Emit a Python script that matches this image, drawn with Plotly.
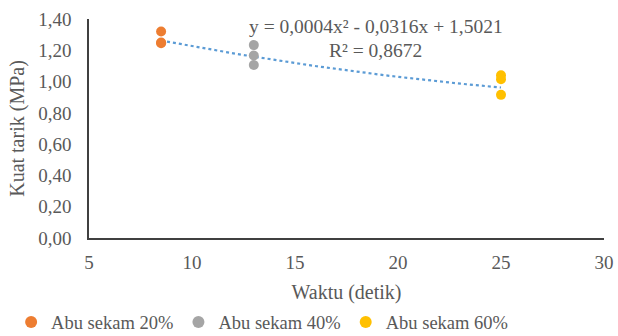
import plotly.graph_objects as go
import numpy as np

x20 = [8.5, 8.5, 8.5]
y20 = [1.32, 1.25, 1.245]
x40 = [13, 13, 13]
y40 = [1.233, 1.167, 1.106]
x60 = [25, 25, 25]
y60 = [1.04, 1.015, 0.915]

coef = [0.0004, -0.0316, 1.5021]
trend_x = np.linspace(8.5, 25, 60)
trend_y = np.polyval(coef, trend_x)

names = ["Abu sekam 20%", "Abu sekam 40%", "Abu sekam 60%"]
colors = ["#ED7D31", "#A5A5A5", "#FFC000"]

font = "Liberation Serif, Times New Roman, serif"
gray = "#595959"

fig = go.Figure()
fig.add_trace(go.Scatter(x=trend_x, y=trend_y, mode="lines",
                         line=dict(color="#5B9BD5", width=2.2, dash="dot"),
                         showlegend=False, hoverinfo="skip"))
for xs, ys, n, c in zip([x20, x40, x60], [y20, y40, y60], names, colors):
    fig.add_trace(go.Scatter(x=xs, y=ys, mode="markers", name=n,
                             marker=dict(color=c, size=10)))

fig.add_annotation(x=18.93, y=1.352, xref="x", yref="y", showarrow=False,
                   text="y = 0,0004x² - 0,0316x + 1,5021",
                   font=dict(family=font, size=19.5, color=gray))
fig.add_annotation(x=18.93, y=1.2, xref="x", yref="y", showarrow=False,
                   text="R² = 0,8672",
                   font=dict(family=font, size=19.5, color=gray))

fig.update_layout(
    width=618, height=336,
    margin=dict(l=89, r=14, t=19, b=98),
    paper_bgcolor="white", plot_bgcolor="white",
    separators=",.",
    font=dict(family=font, size=18, color=gray),
    legend=dict(orientation="h", xref="container", yref="container",
                x=0.018, xanchor="left", y=0.04, yanchor="middle",
                font=dict(family=font, size=18.5, color=gray),
                itemsizing="constant", itemwidth=30, tracegroupgap=0),
    xaxis=dict(range=[5, 30], dtick=5, showgrid=False, zeroline=False,
               showline=True, linecolor="#404040", linewidth=1.5,
               ticks="", ticklabelstandoff=6, automargin=False,
               tickfont=dict(family=font, size=19, color=gray),
               title=dict(text="Waktu (detik)", font=dict(family=font, size=20, color=gray), standoff=14)),
    yaxis=dict(range=[0, 1.4], dtick=0.2, tickformat=".2f", showgrid=False, zeroline=False,
               showline=True, linecolor="#404040", linewidth=1.5,
               ticks="", ticklabelstandoff=12, automargin=False,
               tickfont=dict(family=font, size=19, color=gray),
               title=dict(text="Kuat tarik (MPa)", font=dict(family=font, size=20, color=gray), standoff=8)),
)

fig.write_html("out.html", config={"displayModeBar": False},
               post_script="document.body.style.margin='0';document.body.style.padding='0';")
